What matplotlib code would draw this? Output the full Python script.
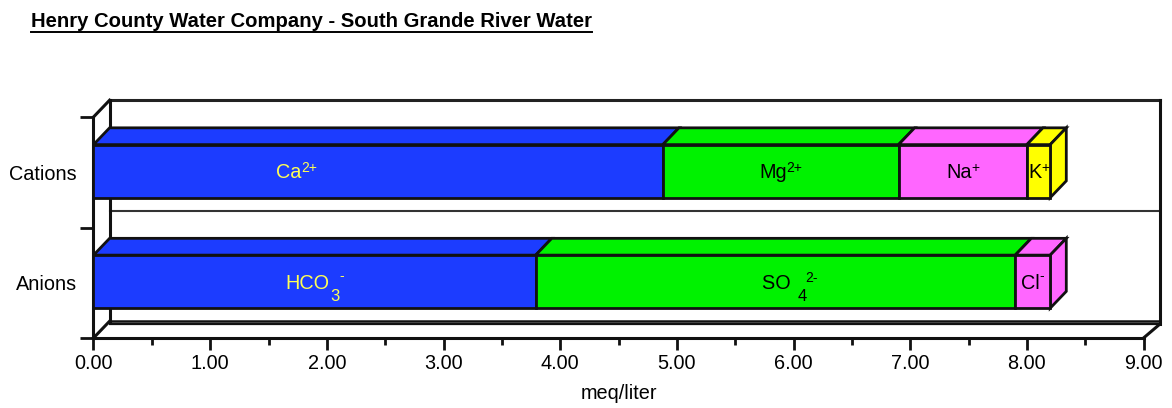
import numpy as np
import matplotlib
matplotlib.use("Agg")
import matplotlib.pyplot as plt
from matplotlib.patches import Polygon
from matplotlib.lines import Line2D
from matplotlib.font_manager import FontProperties
from matplotlib.transforms import offset_copy

# ---- data (meq/liter) ----
categories = ["Anions", "Cations"]
# ion labels as (symbol, subscript, superscript)
cation_ions = [("Ca", "", "2+"), ("Mg", "", "2+"), ("Na", "", "+"), ("K", "", "+")]
cation_values = [4.88, 2.02, 1.10, 0.20]
anion_ions = [("HCO", "3", "-"), ("SO ", "4", "2-"), ("Cl", "", "-")]
anion_values = [3.79, 4.11, 0.30]
x_ticks = [0, 1, 2, 3, 4, 5, 6, 7, 8, 9]
x_tick_labels = [f"{v:.2f}" for v in x_ticks]

cation_colors = ["#1c3cff", "#00f200", "#ff66ff", "#ffff00"]
anion_colors = ["#1c3cff", "#00f200", "#ff66ff"]
cation_text_colors = ["#ffff55", "black", "black", "black"]
anion_text_colors = ["#ffff55", "black", "black"]
# label anchor overrides (x in meq/liter); others sit at the segment centre
cation_label_x = {0: 1.74}
anion_label_x = {1: 5.97}

FAMILY = ["Liberation Sans", "DejaVu Sans"]
plt.rcParams["font.family"] = FAMILY

W, H = 1172, 408
PXX, PXY = 116.67, 110.5  # pixels per data unit
fig = plt.figure(figsize=(W / 100, H / 100), dpi=100)
XMAX, YMAX = 9.25, 2.25
ax = fig.add_axes([93.5 / W, (H - 338) / H, XMAX * PXX / W, YMAX * PXY / H])
ax.set_xlim(0, XMAX)
ax.set_ylim(0, YMAX)

DX, DY = 0.138, 0.152  # depth offset
LW = 2.0
EDGE = "#111111"
FS = 14.3
LABEL_FS, SUB_FS, SUP_FS = 14.3, 12.0, 10.0

# ---- back wall and floor ----
def line(xs, ys, **kw):
    kw.setdefault("color", EDGE)
    kw.setdefault("lw", LW)
    ax.add_line(Line2D(xs, ys, solid_capstyle="projecting", clip_on=False, **kw))

line([DX, 9 + DX], [2 + DY, 2 + DY], color="#222222", lw=2.2)
line([DX, 9 + DX], [1 + DY, 1 + DY], color="#333333", lw=1.5)
line([DX, 9 + DX], [DY, DY], lw=1.8)
line([DX, 9 + DX], [DY - 0.028, DY - 0.028], lw=1.6)
line([DX, DX], [DY, 2 + DY], lw=2.2)
line([9 + DX, 9 + DX], [DY - 0.028, 2 + DY], lw=2.2)
line([0, DX], [2, 2 + DY], lw=2.2)
line([0, DX], [0, DY], lw=2.2)
line([9, 9 + DX], [0, DY - 0.028], lw=2.2)

# ---- ion labels with hand-placed sub/superscripts ----
renderer = fig.canvas.get_renderer()

def text_width(s, size):
    if not s:
        return 0.0
    w, _, _ = renderer.get_text_width_height_descent(s, FontProperties(family=FAMILY, size=size), ismath=False)
    return w

def ion_label(x, y, spec, color):
    base, sub, sup = spec
    wb, ws, wp = text_width(base, LABEL_FS), text_width(sub, SUB_FS), text_width(sup, SUP_FS)
    total = wb + ws + wp
    cap = 0.716 * LABEL_FS * fig.dpi / 72
    x0 = -total / 2
    yb = -cap / 2
    sup_rise = 9 if sup == "-" else 6.5
    pieces = [(base, LABEL_FS, x0, yb),
              (sub, SUB_FS, x0 + wb + 1, yb - 12),
              (sup, SUP_FS, x0 + wb + ws, yb + sup_rise)]
    for s, size, ox, oy in pieces:
        if s:
            tr = offset_copy(ax.transData, fig=fig, x=ox, y=oy, units="dots")
            ax.text(x, y, s, transform=tr, fontsize=size, color=color,
                    ha="left", va="baseline", zorder=5)

# ---- 3D stacked bars ----
BAR_H = 0.48

def draw_stack(ypos, values, colors, names, tcolors, overrides):
    lefts = np.concatenate([[0], np.cumsum(values)[:-1]])
    y0 = ypos - BAR_H / 2 + 0.01
    y1 = y0 + BAR_H
    for i, (left, val, col) in enumerate(zip(lefts, values, colors)):
        right = left + val
        top = Polygon([[left, y1], [left + DX, y1 + DY], [right + DX, y1 + DY], [right, y1]],
                      closed=True, facecolor=col, edgecolor=EDGE, lw=LW, joinstyle="miter", zorder=3)
        ax.add_patch(top)
        if i == len(values) - 1:
            side = Polygon([[right, y0], [right + DX, y0 + DY], [right + DX, y1 + DY], [right, y1]],
                           closed=True, facecolor=col, edgecolor=EDGE, lw=LW, joinstyle="miter", zorder=3)
            ax.add_patch(side)
    ax.barh([ypos + 0.01] * len(values), values, left=lefts, height=BAR_H, color=colors,
            edgecolor=EDGE, linewidth=LW, zorder=4)
    for i, (left, val) in enumerate(zip(lefts, values)):
        xc = overrides.get(i, left + val / 2)
        ion_label(xc, ypos + 0.01, names[i], tcolors[i])

draw_stack(1.5, cation_values, cation_colors, cation_ions, cation_text_colors, cation_label_x)
draw_stack(0.5, anion_values, anion_colors, anion_ions, anion_text_colors, anion_label_x)

# ---- axes ----
for s in ["top", "right"]:
    ax.spines[s].set_visible(False)
ax.spines["bottom"].set_bounds(0, 9)
ax.spines["left"].set_bounds(0, 2)
for s in ["bottom", "left"]:
    ax.spines[s].set_linewidth(2.2)
    ax.spines[s].set_color(EDGE)
    ax.spines[s].set_capstyle("projecting")

ax.set_xticks(x_ticks)
ax.set_xticklabels(x_tick_labels, fontsize=FS)
ax.set_xticks(np.arange(0.5, 9, 1.0), minor=True)
ax.tick_params(axis="x", which="major", length=8.6, width=2.0, direction="out", pad=3, color=EDGE)
ax.tick_params(axis="x", which="minor", length=5, width=2.0, direction="out", color=EDGE)

ax.set_yticks([0, 1, 2])
ax.set_yticklabels([])
ax.set_yticks([0.5, 1.5], minor=True)
ax.set_yticklabels(categories, minor=True, fontsize=FS)
ax.tick_params(axis="y", which="major", length=9.4, width=2.0, direction="out", color=EDGE)
ax.tick_params(axis="y", which="minor", length=0, pad=12)

ax.set_xlabel("meq/liter", fontsize=FS)
ax.xaxis.set_label_coords(4.5 / XMAX, -0.185)

# ---- underlined title ----
title = fig.text(31 / W, 1 - 27 / H, "Henry County Water Company - South Grande River Water",
                 fontsize=14.6, fontweight="bold", ha="left", va="baseline")
fig.canvas.draw()
bb = title.get_window_extent(renderer=fig.canvas.get_renderer())
uy = (bb.y0 - 1.0) / H
fig.add_artist(Line2D([bb.x0 / W, bb.x1 / W], [uy, uy], transform=fig.transFigure,
                      color="black", lw=1.4))

fig.savefig("out.png", dpi=100)
